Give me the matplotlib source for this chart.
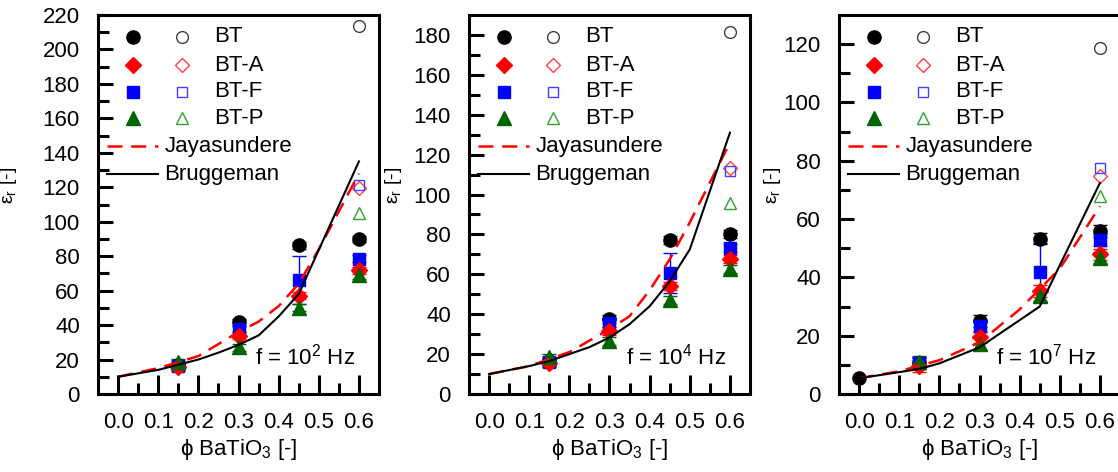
import matplotlib
matplotlib.use('Agg')
import matplotlib.pyplot as plt

plt.rcParams['font.family'] = ['Liberation Sans', 'DejaVu Sans']
plt.rcParams['mathtext.fontset'] = 'custom'
plt.rcParams['mathtext.rm'] = 'Liberation Sans'
plt.rcParams['mathtext.it'] = 'Liberation Sans:italic'

# Datos (phi BaTiO3 vs permitividad relativa)
phi = [0.15, 0.30, 0.45, 0.60]
phi_open = 0.60
freq_labels = ['f = 10$^{2}$ Hz', 'f = 10$^{4}$ Hz', 'f = 10$^{7}$ Hz']
y_max = [220, 190, 130]

# f = 10^2 Hz
bt_1 = [17, 41.6, 86.3, 90]
bta_1 = [15.5, 33.8, 57, 71.8]
btf_1 = [16, 37.7, 66, 78.6]
btp_1 = [18.3, 27, 50, 68.8]
open_1 = [213.7, 119.4, 121.3, 104.8]   # BT, BT-A, BT-F, BT-P
brugg_x_1 = [0, 0.1, 0.15, 0.2, 0.25, 0.3, 0.35, 0.4, 0.45, 0.6]
brugg_y_1 = [10, 14, 17, 20, 24, 28.5, 34, 45, 58, 135]
jaya_x_1 = [0, 0.1, 0.2, 0.3, 0.35, 0.4, 0.45, 0.5, 0.6]
jaya_y_1 = [10, 15, 22, 36, 42, 51, 64, 84, 128]

# f = 10^4 Hz
bt_2 = [16.5, 37.8, 77, 80]
bta_2 = [15.5, 31.7, 54, 67.5]
btf_2 = [16.2, 35.5, 60.8, 73.3]
btp_2 = [18.3, 26.7, 47, 62.5]
open_2 = [181.7, 113.3, 112, 95.8]
brugg_x_2 = [0, 0.1, 0.15, 0.2, 0.25, 0.3, 0.35, 0.4, 0.45, 0.5, 0.6]
brugg_y_2 = [10, 14, 16.5, 20, 23.5, 28.3, 35, 44, 56.5, 72.5, 131]
jaya_x_2 = [0, 0.1, 0.2, 0.3, 0.35, 0.4, 0.45, 0.5, 0.6]
jaya_y_2 = [10, 14, 21, 32.5, 39, 52, 67.5, 86, 126]

# f = 10^7 Hz
bt0_3 = 5.4   # matriz sola (phi = 0)
bt_3 = [10.5, 25, 53.3, 55.9]
bta_3 = [9.7, 19.4, 35.3, 47.9]
btf_3 = [10.8, 23.4, 41.8, 52.8]
btp_3 = [11, 17.1, 33.6, 46.8]
open_3 = [118.6, 74.7, 77.6, 67.8]
brugg_x_3 = [0, 0.1, 0.15, 0.2, 0.3, 0.45, 0.6]
brugg_y_3 = [5.4, 7.5, 8.6, 10.5, 16, 30, 72.4]
jaya_x_3 = [0, 0.1, 0.2, 0.3, 0.4, 0.5, 0.6]
jaya_y_3 = [5.4, 7.8, 11.6, 17.7, 29, 43, 64.4]

# barras de error (simetricas)
err_small = [2, 2, 2, 2]
err_btf = [[2, 2, 14, 2], [2, 2, 10, 2], [2, 2, 10, 2]]

series = ['BT', 'BT-A', 'BT-F', 'BT-P']
fill_colors = ['black', '#ff0000', '#0000ff', '#006400']
open_colors = ['#404040', '#ff4040', '#4040ff', '#30a030']
markers = ['o', 'D', 's', '^']
sizes = [9.5, 8, 8, 9.5]

paneles = [
    ([bt_1, bta_1, btf_1, btp_1], open_1, brugg_x_1, brugg_y_1, jaya_x_1, jaya_y_1),
    ([bt_2, bta_2, btf_2, btp_2], open_2, brugg_x_2, brugg_y_2, jaya_x_2, jaya_y_2),
    ([bt_3, bta_3, btf_3, btp_3], open_3, brugg_x_3, brugg_y_3, jaya_x_3, jaya_y_3),
]

FS = 16
W, H = 1118, 472
fig = plt.figure(figsize=(W / 100, H / 100), dpi=100)
lefts = [98, 469, 839]
ylabel_x = [-0.28, -0.23, -0.20]


def dibujar_leyenda(ax):
    # leyenda estilo Origin: marcador lleno, marcador vacio, texto
    filas = [0.942, 0.868, 0.797, 0.728]
    for k in range(4):
        ax.plot([0.125], [filas[k]], marker=markers[k], ms=sizes[k], color=fill_colors[k],
                ls='none', transform=ax.transAxes, clip_on=False)
        ax.plot([0.30], [filas[k]], marker=markers[k], ms=sizes[k] - 1, mfc='none',
                mec=open_colors[k], mew=1, ls='none', transform=ax.transAxes, clip_on=False)
        ax.text(0.415, filas[k], series[k], fontsize=FS, va='center', ha='left',
                transform=ax.transAxes)
    ax.plot([0.032, 0.215], [0.654, 0.654], color='#ff0000', ls='--', lw=1.8,
            dashes=(6, 3.5), transform=ax.transAxes)
    ax.text(0.236, 0.654, 'Jayasundere', fontsize=FS, va='center', ha='left',
            transform=ax.transAxes)
    ax.plot([0.032, 0.215], [0.580, 0.580], color='black', lw=1.5, transform=ax.transAxes)
    ax.text(0.236, 0.580, 'Bruggeman', fontsize=FS, va='center', ha='left',
            transform=ax.transAxes)


for i, (llenos, abiertos, bx, by, jx, jy) in enumerate(paneles):
    ax = fig.add_axes([lefts[i] / W, (H - 394) / H, 281 / W, 379 / H])

    if i == 2:
        ax.plot([0.0], [bt0_3], marker='o', ms=sizes[0], color='black', ls='none', zorder=3)

    orden = [0, 2, 1, 3]
    for k in orden:
        yerr = err_btf[i] if k == 2 else err_small
        ax.errorbar(phi, llenos[k], yerr=yerr, fmt=markers[k], ms=sizes[k],
                    color=fill_colors[k], ecolor=fill_colors[k], elinewidth=1,
                    capsize=5, capthick=1, zorder=3)
    for k in range(4):
        ax.plot([phi_open], [abiertos[k]], marker=markers[k], ms=sizes[k] - 1, mfc='none',
                mec=open_colors[k], mew=1, ls='none', zorder=3)

    ax.plot(jx, jy, color='#ff0000', ls='--', lw=1.8, dashes=(6, 3.5), zorder=4)
    ax.plot(bx, by, color='black', lw=1.5, zorder=5)

    dibujar_leyenda(ax)

    ax.text(0.915, 0.098, freq_labels[i], fontsize=FS, ha='right', va='center',
            transform=ax.transAxes)

    ax.set_xlim(-0.05, 0.65)
    ax.set_ylim(0, y_max[i])
    ax.set_xticks([0.0, 0.1, 0.2, 0.3, 0.4, 0.5, 0.6])
    ax.set_xticks([0.05, 0.15, 0.25, 0.35, 0.45, 0.55], minor=True)
    ax.set_xticklabels(['0.0', '0.1', '0.2', '0.3', '0.4', '0.5', '0.6'])
    ax.set_yticks(range(0, y_max[i] + 1, 20))
    ax.set_yticks(range(10, y_max[i], 20), minor=True)

    for s in ax.spines.values():
        s.set_linewidth(2.2)
    ax.tick_params(axis='both', which='both', direction='in', width=2.2,
                   labelsize=FS, top=False, right=False)
    ax.tick_params(axis='y', which='major', length=11, pad=13)
    ax.tick_params(axis='y', which='minor', length=8)
    ax.tick_params(axis='x', which='major', length=14, pad=13)
    ax.tick_params(axis='x', which='minor', length=8)

    ax.set_xlabel('ϕ BaTiO$_{3}$ [-]', fontsize=FS, labelpad=3)
    ax.set_ylabel('ε$_\\mathrm{r}$ [-]', fontsize=14)
    ax.yaxis.set_label_coords(ylabel_x[i], 0.55)

fig.savefig('out.png', dpi=100)
